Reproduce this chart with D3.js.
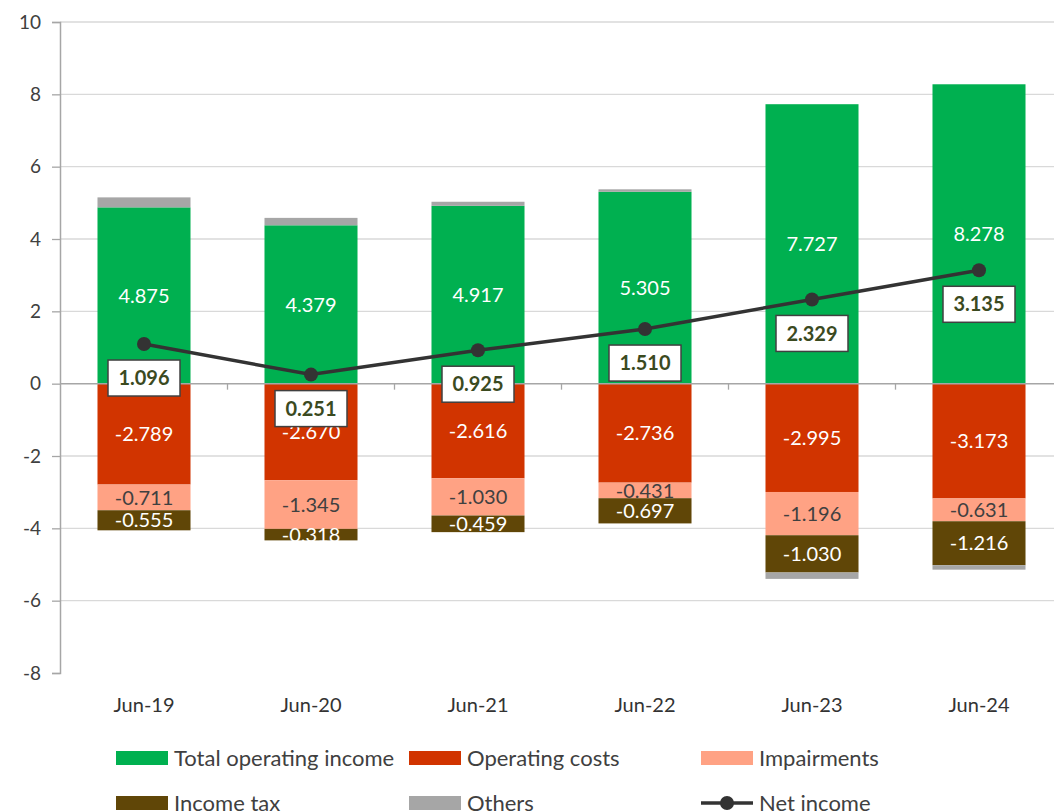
<!DOCTYPE html>
<html>
<head>
<meta charset="utf-8">
<script src="https://cdn.jsdelivr.net/npm/d3@7"></script>
<style>
  html, body { margin: 0; padding: 0; background: #fff; }
  svg { display: block; font-family: Lato, "Open Sans", "DejaVu Sans", sans-serif; }
</style>
</head>
<body>
<svg id="chart" width="1054" height="812"></svg>
<script>
// Periods on the x axis
const periods = ["Jun-19", "Jun-20", "Jun-21", "Jun-22", "Jun-23", "Jun-24"];

// Components of the income bridge (billions)
const totalOperatingIncome = [4.875, 4.379, 4.917, 5.305, 7.727, 8.278];
const operatingCosts       = [-2.789, -2.670, -2.616, -2.736, -2.995, -3.173];
const impairments          = [-0.711, -1.345, -1.030, -0.431, -1.196, -0.631];
const incomeTax            = [-0.555, -0.318, -0.459, -0.697, -1.030, -1.216];
const others               = [0.276, 0.205, 0.113, 0.069, -0.177, -0.123];
const netIncome            = [1.096, 0.251, 0.925, 1.510, 2.329, 3.135];

// Y axis ticks
const yTicks = [-8, -6, -4, -2, 0, 2, 4, 6, 8, 10];

const seriesDefs = [
  { key: "Total operating income", values: totalOperatingIncome, color: "#00B050", label: "#ffffff" },
  { key: "Operating costs",        values: operatingCosts,       color: "#D13400", label: "#ffffff" },
  { key: "Impairments",            values: impairments,          color: "#FFA284", label: "#404040" },
  { key: "Income tax",             values: incomeTax,            color: "#604607", label: "#ffffff" },
  { key: "Others",                 values: others,               color: "#A6A6A6", label: null }
];

const svg = d3.select("#chart");

const x = d3.scaleBand()
  .domain(periods)
  .range([60.5, 1062.5])
  .paddingInner(0.443)
  .paddingOuter(0.2215);

const y = d3.scaleLinear().domain([-8, 10]).range([673, 22]);

// Plain hyphen for negatives
const hy = s => s.replace("\u2212", "-");
const fmt = v => hy(d3.format(".3f")(v));

// Gridlines
svg.append("g")
  .selectAll("line")
  .data(yTicks.filter(t => t !== 0 && t !== -8))
  .join("line")
  .attr("x1", 60).attr("x2", 1054)
  .attr("y1", d => y(d)).attr("y2", d => y(d))
  .attr("stroke", "#D9D9D9").attr("stroke-width", 1.3);

// Stacked table
const table = periods.map((p, i) => {
  const row = { period: p };
  seriesDefs.forEach(s => { row[s.key] = s.values[i]; });
  return row;
});

const stacked = d3.stack()
  .keys(seriesDefs.map(s => s.key))
  .offset(d3.stackOffsetDiverging)(table);

// Bars, each series followed by its labels
stacked.forEach((layer, li) => {
  const def = seriesDefs[li];
  const g = svg.append("g");
  g.selectAll("rect")
    .data(layer)
    .join("rect")
    .attr("x", d => x(d.data.period))
    .attr("width", x.bandwidth())
    .attr("y", d => y(Math.max(d[0], d[1])))
    .attr("height", d => Math.abs(y(d[0]) - y(d[1])))
    .attr("fill", def.color);
  if (def.label) {
    g.selectAll("text")
      .data(layer)
      .join("text")
      .attr("x", d => x(d.data.period) + x.bandwidth() / 2)
      .attr("y", d => y((d[0] + d[1]) / 2))
      .attr("dy", "0.36em")
      .attr("text-anchor", "middle")
      .attr("font-size", 20)
      .attr("fill", def.label)
      .text(d => fmt(d.data[def.key]));
  }
});

// Y axis
const yAxis = d3.axisLeft(y).tickValues(yTicks).tickSize(8).tickPadding(11)
  .tickFormat(d => hy(d3.format("d")(d)));
const ya = svg.append("g").attr("transform", "translate(60,0)").call(yAxis);
ya.select(".domain").attr("stroke", "#A6A6A6").attr("stroke-width", 1.5);
ya.selectAll(".tick line").attr("stroke", "#A6A6A6").attr("stroke-width", 1.3);
ya.selectAll(".tick text")
  .attr("font-size", 19).attr("fill", "#404040")
  .attr("font-family", "Lato, 'Open Sans', sans-serif");

// Zero baseline with category tick marks
svg.append("line")
  .attr("x1", 60).attr("x2", 1054)
  .attr("y1", y(0)).attr("y2", y(0))
  .attr("stroke", "#A6A6A6").attr("stroke-width", 1.5);
svg.append("g")
  .selectAll("line")
  .data(periods.slice(1))
  .join("line")
  .attr("x1", d => x(d) - x.step() * x.paddingInner() / 2)
  .attr("x2", d => x(d) - x.step() * x.paddingInner() / 2)
  .attr("y1", y(0)).attr("y2", y(0) + 6)
  .attr("stroke", "#A6A6A6").attr("stroke-width", 1.3);

// Category labels
svg.append("g")
  .selectAll("text")
  .data(periods)
  .join("text")
  .attr("x", d => x(d) + x.bandwidth() / 2)
  .attr("y", 705)
  .attr("dy", "0.35em")
  .attr("text-anchor", "middle")
  .attr("font-size", 20)
  .attr("fill", "#333333")
  .text(d => d);

// Net income line
const cx = p => x(p) + x.bandwidth() / 2;
const line = d3.line().x((d, i) => cx(periods[i])).y(d => y(d));
svg.append("path")
  .datum(netIncome)
  .attr("d", line)
  .attr("fill", "none")
  .attr("stroke", "#333333")
  .attr("stroke-width", 3.5);
svg.append("g")
  .selectAll("circle")
  .data(netIncome)
  .join("circle")
  .attr("cx", (d, i) => cx(periods[i]))
  .attr("cy", d => y(d))
  .attr("r", 7)
  .attr("fill", "#333333");

// Net income labels in boxes below the points
const lab = svg.append("g")
  .selectAll("g")
  .data(netIncome)
  .join("g")
  .attr("transform", (d, i) => `translate(${cx(periods[i])},${y(d) + 34})`);
lab.append("rect")
  .attr("x", -36).attr("y", -18)
  .attr("width", 72).attr("height", 36)
  .attr("fill", "#ffffff")
  .attr("stroke", "#404040")
  .attr("stroke-width", 1.5);
lab.append("text")
  .attr("text-anchor", "middle")
  .attr("dy", "0.36em")
  .attr("font-size", 20)
  .attr("font-weight", "bold")
  .attr("fill", "#3B4A1F")
  .text(d => fmt(d));

// Legend
const legendItems = [
  { key: "Total operating income", color: "#00B050", x: 116, y: 758, type: "rect" },
  { key: "Operating costs",        color: "#D13400", x: 409, y: 758, type: "rect" },
  { key: "Impairments",            color: "#FFA284", x: 701, y: 758, type: "rect" },
  { key: "Income tax",             color: "#604607", x: 116, y: 803, type: "rect" },
  { key: "Others",                 color: "#A6A6A6", x: 409, y: 803, type: "rect" },
  { key: "Net income",             color: "#333333", x: 701, y: 803, type: "line" }
];
const lg = svg.append("g")
  .selectAll("g")
  .data(legendItems)
  .join("g")
  .attr("transform", d => `translate(${d.x},${d.y})`);
lg.filter(d => d.type === "rect").append("rect")
  .attr("x", 0).attr("y", -7).attr("width", 52).attr("height", 14)
  .attr("fill", d => d.color);
lg.filter(d => d.type === "line").append("line")
  .attr("x1", 0).attr("x2", 52).attr("y1", 0).attr("y2", 0)
  .attr("stroke", d => d.color).attr("stroke-width", 3.5);
lg.filter(d => d.type === "line").append("circle")
  .attr("cx", 26).attr("cy", 0).attr("r", 7)
  .attr("fill", d => d.color);
lg.append("text")
  .attr("x", 58)
  .attr("dy", "0.35em")
  .attr("font-size", 22)
  .attr("fill", "#404040")
  .text(d => d.key);
</script>
</body>
</html>
